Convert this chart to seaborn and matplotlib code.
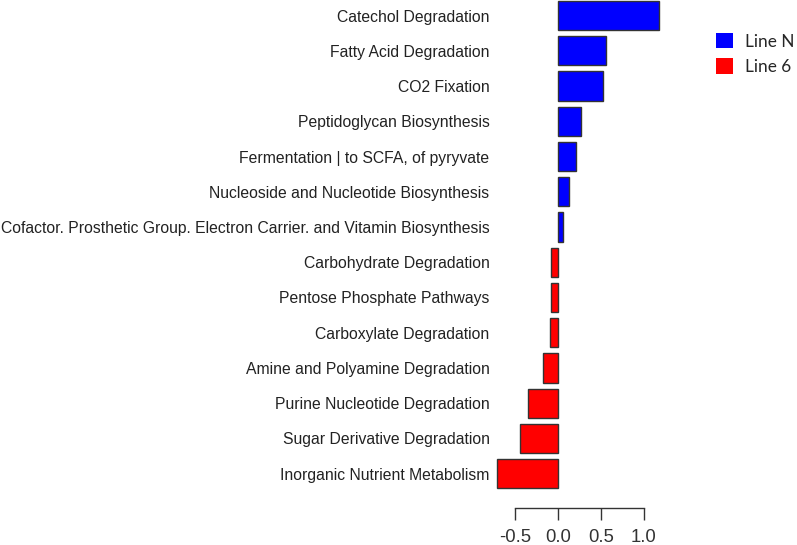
import matplotlib.pyplot as plt
import pandas as pd
import seaborn as sns
from matplotlib.patches import Patch

# Vias metabólicas (de cima para baixo) e valores
vias = [
    "Catechol Degradation",
    "Fatty Acid Degradation",
    "CO2 Fixation",
    "Peptidoglycan Biosynthesis",
    "Fermentation | to SCFA, of pyryvate",
    "Nucleoside and Nucleotide Biosynthesis",
    "Cofactor. Prosthetic Group. Electron Carrier. and Vitamin Biosynthesis",
    "Carbohydrate Degradation",
    "Pentose Phosphate Pathways",
    "Carboxylate Degradation",
    "Amine and Polyamine Degradation",
    "Purine Nucleotide Degradation",
    "Sugar Derivative Degradation",
    "Inorganic Nutrient Metabolism",
]
valores = [1.17, 0.56, 0.52, 0.27, 0.21, 0.13, 0.065,
           -0.08, -0.075, -0.093, -0.17, -0.345, -0.44, -0.70]
grupos = ["Line N"] * 7 + ["Line 6"] * 7
cores = {"Line N": "#0000FF", "Line 6": "#FF0000"}
xticks = [-0.5, 0.0, 0.5, 1.0]

df = pd.DataFrame({"via": vias, "valor": valores, "grupo": grupos})

sns.set_style("white")
plt.rcParams["font.family"] = ["Liberation Sans", "DejaVu Sans"]

fig = plt.figure(figsize=(7.97, 5.45), dpi=100)
ax = fig.add_axes([491 / 797, 1 - 507.7 / 545, 174 / 797, 507.6 / 545])

sns.barplot(
    data=df, x="valor", y="via", hue="grupo", order=vias,
    palette=cores, saturation=1, dodge=False, width=0.83,
    edgecolor="#333333", linewidth=1.0, legend=False, ax=ax,
)

ax.set_xlim(-0.775, 1.245)
ax.set_ylim(13.966, -0.44)
ax.set_xlabel("")
ax.set_ylabel("")
ax.set_xticks(xticks)
ax.set_xticklabels([f"{v:.1f}" for v in xticks], fontsize=13.3, color="#333333")
ax.tick_params(axis="x", direction="out", length=8.8, width=1.0,
               color="#333333", pad=6.5, bottom=True)
ax.tick_params(axis="y", length=0, pad=1, labelsize=11.35, labelcolor="#222222")

for lado in ["top", "right", "left"]:
    ax.spines[lado].set_visible(False)
ax.spines["bottom"].set_bounds(-0.5, 1.0)
ax.spines["bottom"].set_color("#333333")
ax.spines["bottom"].set_linewidth(1.0)

handles = [Patch(facecolor=cores[g], edgecolor="none") for g in ["Line N", "Line 6"]]
fig.legend(
    handles, ["Line N", "Line 6"], loc="upper left",
    bbox_to_anchor=(716 / 797, 1 - 33 / 545), frameon=False,
    prop={"family": ["Lato", "DejaVu Sans"], "size": 12.4},
    handlelength=1.0, handleheight=1.0, handletextpad=0.7,
    labelspacing=0.5, borderaxespad=0, borderpad=0,
)

fig.savefig("out.png", dpi=100)
